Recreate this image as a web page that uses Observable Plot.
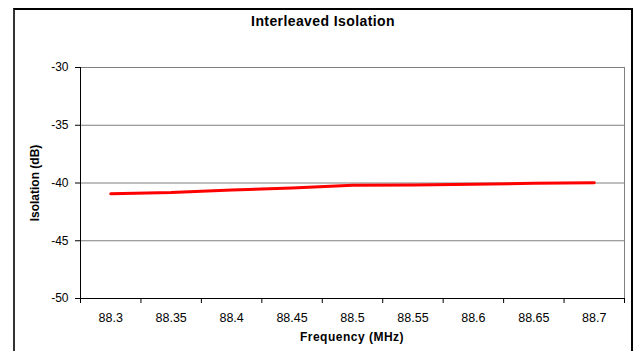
<!DOCTYPE html>
<html><head><meta charset="utf-8">
<script src="https://cdn.jsdelivr.net/npm/d3@7"></script>
<script src="https://cdn.jsdelivr.net/npm/@observablehq/plot@0.6"></script>
<style>
body{margin:0;background:#fff;font-family:"Liberation Sans",Arial,sans-serif;}
#wrap{position:relative;width:634px;height:351px;overflow:hidden;background:#fff;}
#box{position:absolute;left:13px;top:8px;width:616px;height:400px;border:2px solid #000;border-left-color:#333;}
#chart{position:absolute;left:0;top:0;}
.t{position:absolute;font-weight:bold;font-size:12px;line-height:14px;text-align:center;color:#000;white-space:nowrap;}
#title{left:13px;top:13px;width:620px;font-size:14px;line-height:16px;letter-spacing:0.4px;}
#xl{left:80px;top:330px;width:544px;letter-spacing:0.5px;}
#yl{left:-65px;top:175.5px;width:200px;transform:rotate(-90deg);}
</style></head>
<body>
<div id="wrap">
  <div id="box"></div>
  <div id="chart"></div>
  <div class="t" id="title"></div>
  <div class="t" id="xl"></div>
  <div class="t" id="yl"></div>
</div>
<script>
const titleText = "Interleaved Isolation";
const xTitle = "Frequency (MHz)";
const yTitle = "Isolation (dB)";
const frequencies = [88.3, 88.35, 88.4, 88.45, 88.5, 88.55, 88.6, 88.65, 88.7];
const isolation = [-40.93, -40.83, -40.6, -40.43, -40.2, -40.18, -40.1, -40.03, -39.97];
const yTicks = [-50, -45, -40, -35, -30];

document.getElementById("title").textContent = titleText;
document.getElementById("xl").textContent = xTitle;
document.getElementById("yl").textContent = yTitle;

const data = frequencies.map((f, i) => ({f, v: isolation[i]}));
const half = (frequencies[1] - frequencies[0]) / 2;
const bounds = frequencies.map(f => f - half).concat([frequencies[frequencies.length - 1] + half]);

const chart = Plot.plot({
  width: 634,
  height: 351,
  marginLeft: 80,
  marginRight: 10,
  marginTop: 67,
  marginBottom: 53,
  style: {fontFamily: '"Liberation Sans", Arial, sans-serif', fontSize: "12px", background: "transparent", overflow: "visible"},
  x: {type: "linear", domain: [bounds[0], bounds[bounds.length - 1]]},
  y: {domain: [yTicks[0], yTicks[yTicks.length - 1]]},
  marks: [
    Plot.frame({stroke: "#808080"}),
    Plot.gridY(yTicks, {stroke: "#808080", strokeOpacity: 1}),
    Plot.ruleX([bounds[0]], {stroke: "#000"}),
    Plot.ruleY([yTicks[0]], {stroke: "#000"}),
    Plot.axisY(yTicks, {tickSize: 5, tickPadding: 7, label: null, tickFormat: d => String(d), stroke: "#000"}),
    Plot.axisX(bounds, {tickSize: 5, tickFormat: () => "", label: null, stroke: "#000"}),
    Plot.axisX(frequencies, {tickSize: 0, tickPadding: 14.5, label: null, tickFormat: d => String(d), fontSize: 12.5}),
    Plot.line(data, {x: "f", y: "v", stroke: "#ff0000", strokeWidth: 3})
  ]
});
document.getElementById("chart").appendChild(chart);
</script>
</body></html>
